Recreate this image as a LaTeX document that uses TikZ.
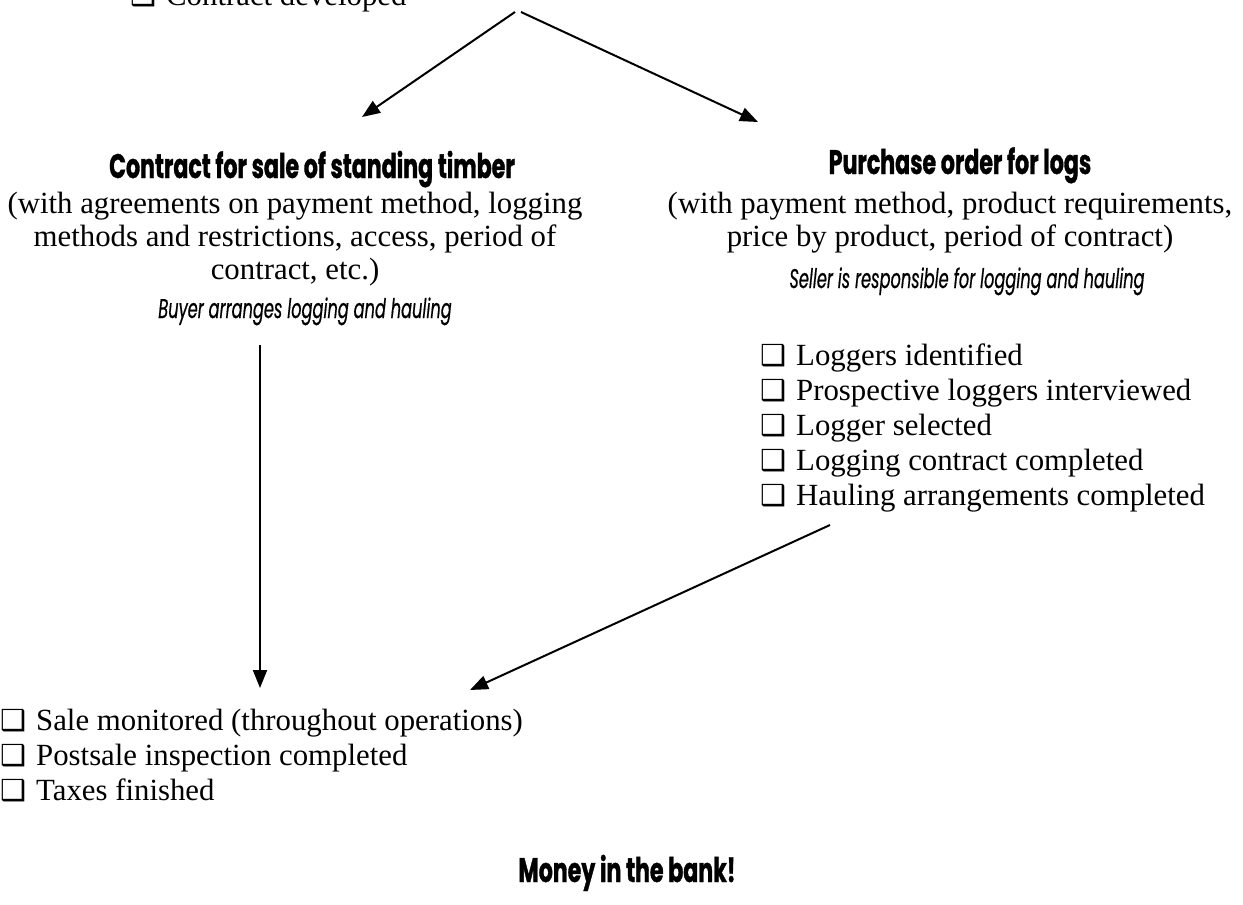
\documentclass[tikz,border=0pt]{standalone}
\usepackage{fontspec}
\setmainfont{Liberation Serif}
\newfontfamily\headfont[FakeStretch=0.65,FakeBold=1]{Poppins}
\newfontfamily\obfont[FakeStretch=0.6,FakeBold=0.5]{Poppins}
\newfontfamily\dejavu{DejaVu Sans}
\usetikzlibrary{arrows.meta}
\newcommand\cbx{{\dejavu\fontsize{29}{29}\selectfont ❑}}
\begin{document}
\begin{tikzpicture}[x=1pt,y=-1pt,
  body/.style={font=\fontsize{30.8}{35}\selectfont, inner sep=0pt},
  headtxt/.style={font=\headfont\bfseries\fontsize{34}{40}\selectfont, inner sep=0pt, anchor=base},
  obtxt/.style={font=\obfont\itshape\fontsize{27}{32}\selectfont, inner sep=0pt, anchor=base},
  para/.style={body, anchor=base},
  chk/.style={body, anchor=base west},
  conn/.style={line width=2pt, -{Triangle[length=18pt,width=14pt]}},
]
\useasboundingbox (0,0) rectangle (1243,905);

% top item
\node[chk] (top) at (130,5) {\cbx\hspace{10pt}Contract developed};

% left branch
\node[headtxt] (headL) at (312,178) {Contract for sale of standing timber};
\node[para] (parL1) at (295,213) {(with agreements on payment method, logging};
\node[para] (parL2) at (295,246) {methods and restrictions, access, period of};
\node[para] (parL3) at (295,279) {contract, etc.)};
\node[obtxt] (obL) at (305,318) {Buyer arranges logging and hauling};

% right branch
\node[headtxt] (headR) at (960,174) {Purchase order for logs};
\node[para] (parR1) at (950,213) {(with payment method, product requirements,};
\node[para] (parR2) at (950,246) {price by product, period of contract)};
\node[obtxt] (obR) at (967,288) {Seller is responsible for logging and hauling};

\node[chk] (r1) at (760,365) {\cbx\hspace{10pt}Loggers identified};
\node[chk] (r2) at (760,400) {\cbx\hspace{10pt}Prospective loggers interviewed};
\node[chk] (r3) at (760,435) {\cbx\hspace{10pt}Logger selected};
\node[chk] (r4) at (760,470) {\cbx\hspace{10pt}Logging contract completed};
\node[chk] (r5) at (760,505) {\cbx\hspace{10pt}Hauling arrangements completed};

% bottom
\node[chk] (b1) at (0,730) {\cbx\hspace{10pt}Sale monitored (throughout operations)};
\node[chk] (b2) at (0,765) {\cbx\hspace{10pt}Postsale inspection completed};
\node[chk] (b3) at (0,800) {\cbx\hspace{10pt}Taxes finished};

\node[headtxt] (money) at (627,882) {Money in the bank!};

% connectors
\coordinate (apexL) at (515,12);
\coordinate (apexR) at (521,12);
\coordinate (tipL) at (362,117);
\coordinate (tipR) at (758,122);
\coordinate (vtop) at (260,345);
\coordinate (vbot) at (260,688);
\coordinate (dtop) at (830,525);
\coordinate (dbot) at (470,690);

\draw[conn] (apexL) -- (tipL);
\draw[conn] (apexR) -- (tipR);
\draw[conn] (vtop) -- (vbot);
\draw[conn] (dtop) -- (dbot);
\end{tikzpicture}
\end{document}
